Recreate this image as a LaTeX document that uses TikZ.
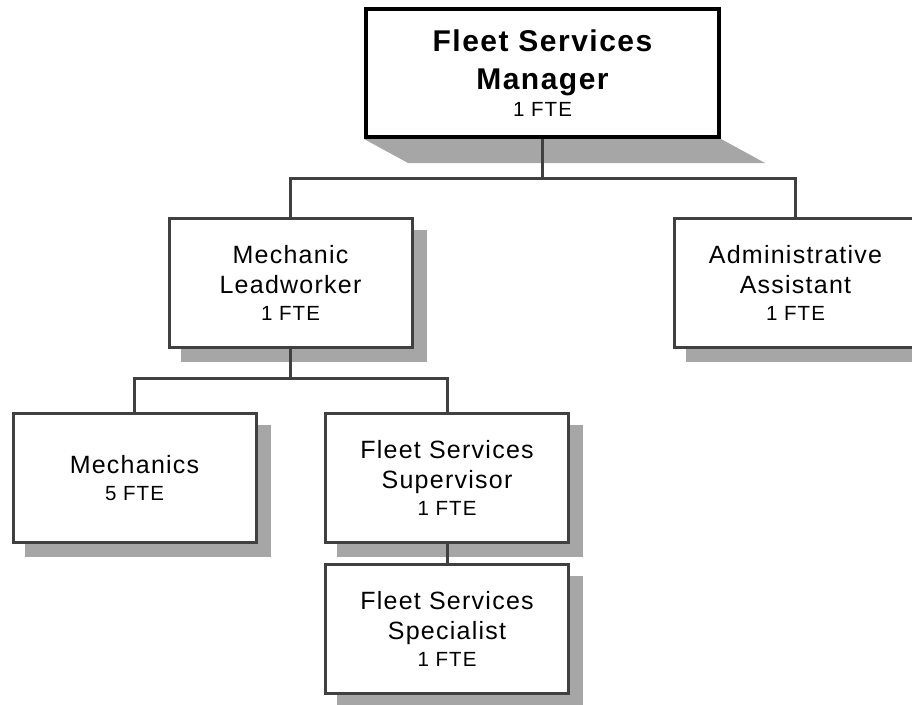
\documentclass[tikz,border=0pt]{standalone}
\usepackage{fontspec}
\setmainfont{Liberation Sans}[LetterSpace=5]
\usetikzlibrary{backgrounds}
\definecolor{shadowgray}{HTML}{A6A6A6}
\definecolor{linegray}{HTML}{404040}
\newcommand{\fte}[2][-3pt]{\\[#1]{\mdseries\fontsize{20.5}{24}\selectfont #2 FTE}}
\begin{document}
\begin{tikzpicture}[x=1pt,y=-1pt,line join=miter,
    post/.style={draw=linegray,line width=3pt,fill=white,minimum width=243pt,minimum height=129pt,inner sep=0pt,align=center,font=\fontsize{25}{30}\selectfont},
    topbox/.style={post,draw=black,line width=4pt,minimum width=353pt,minimum height=128pt,font=\fontsize{30}{38}\selectfont\bfseries},
    link/.style={draw=linegray,line width=3pt}]
	\useasboundingbox (0,0) rectangle (912,704);
	\clip (0,0) rectangle (912,704);
	% boxes
	\node[topbox] (mgr) at (542.5,73) {Fleet Services\\Manager\fte[-11pt]{1}};
	\node[post] (lead) at (290.5,282.5) {Mechanic\\Leadworker\fte{1}};
	\node[post] (admin) at (795.5,282.5) {Administrative\\Assistant\fte{1}};
	\node[post] (mech) at (134.5,478) {Mechanics\fte{5}};
	\node[post] (sup) at (447,478) {Fleet Services\\Supervisor\fte{1}};
	\node[post] (spec) at (447,629) {Fleet Services\\Specialist\fte{1}};
	\path
	(mgr.south |- 0,178) coordinate (j1)
	(lead.south |- 0,378) coordinate (j2)
	;
	\begin{scope}[on background layer]
		% shadows
		\fill[shadowgray] (mgr.south west) -- ++(44,24) -- ([shift={(44,24)}]mgr.south east) -- (mgr.south east) -- cycle;
		\foreach \n in {lead,admin,mech,sup,spec}
			\fill[shadowgray] ([shift={(13,13)}]\n.south west) rectangle ([shift={(13,13)}]\n.north east);
		% connectors
		\draw[link] (mgr.south) -- (j1);
		\draw[link] (lead.north) |- (j1) -| (admin.north);
		\draw[link] (lead.south) -- (j2);
		\draw[link] (mech.north) |- (j2) -| (sup.north);
		\draw[link] (sup.south) -- (spec.north);
	\end{scope}
\end{tikzpicture}
\end{document}
